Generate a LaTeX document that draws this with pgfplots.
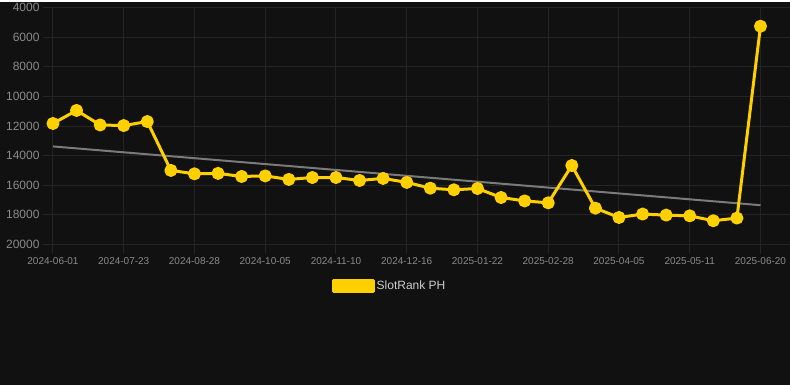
\documentclass[border=0pt]{standalone}
\usepackage{pgfplots}
\pgfplotsset{compat=1.18}
\usepackage{fontspec}
\setmainfont{Liberation Sans}
\definecolor{bg}{HTML}{111111}
\definecolor{gridc}{HTML}{242424}
\definecolor{tickc}{HTML}{8A8A8A}
\definecolor{yel}{HTML}{FFD000}
\definecolor{trend}{HTML}{7A7A7A}
\definecolor{legc}{HTML}{CCCCCC}
\begin{document}
\begin{tikzpicture}[x=1pt,y=1pt]
\fill[bg] (0,0) rectangle (790,384);
\begin{axis}[
  at={(53pt,141pt)}, anchor=south west, scale only axis,
  width=737pt, height=237pt,
  xmin=0, xmax=31.23, ymin=4000, ymax=20000, y dir=reverse,
  xtick={0,3,...,30},
  xticklabels={2024-06-01,2024-07-23,2024-08-28,2024-10-05,2024-11-10,2024-12-16,2025-01-22,2025-02-28,2025-04-05,2025-05-11,2025-06-20},
  ytick={4000,6000,...,20000},
  xtick pos=bottom, ytick pos=left,
  grid=major, grid style={gridc, line width=1pt},
  axis line style={draw=none},
  tick style={gridc, line width=1pt},
  tick align=outside, major tick length=10pt,
  yticklabel style={font=\fontsize{12}{12}\selectfont, color=tickc},
  xticklabel style={font=\fontsize{10}{10}\selectfont, color=tickc},
  scaled y ticks=false,
  /pgf/number format/.cd, 1000 sep={}, assume math mode=true,
  /pgfplots/.cd,
  clip=false,
  legend style={at={(0.457,-0.177)}, anchor=center, draw=none, fill=none,
    font=\fontsize{12}{12}\selectfont, text=legc},
  legend image code/.code={\fill[yel] (0pt,-5.5pt) rectangle (40pt,5.5pt);},
]
\addplot[trend, line width=2pt, forget plot] coordinates {(0,13380) (30,17350)};
\addplot[yel, line width=3pt, line join=round, mark=*, mark size=5pt, mark options={solid, fill=yel, draw=none}]
coordinates {
(0,11830) (1,10950) (2,11930) (3,11970) (4,11700) (5,15000) (6,15230) (7,15200)
(8,15410) (9,15370) (10,15610) (11,15480) (12,15480) (13,15680) (14,15540)
(15,15810) (16,16200) (17,16310) (18,16220) (19,16830) (20,17060) (21,17190)
(22,14670) (23,17550) (24,18180) (25,17950) (26,18020) (27,18070) (28,18400)
(29,18220) (30,5260)
};
\addlegendentry{SlotRank PH}
\end{axis}
\end{tikzpicture}
\end{document}
